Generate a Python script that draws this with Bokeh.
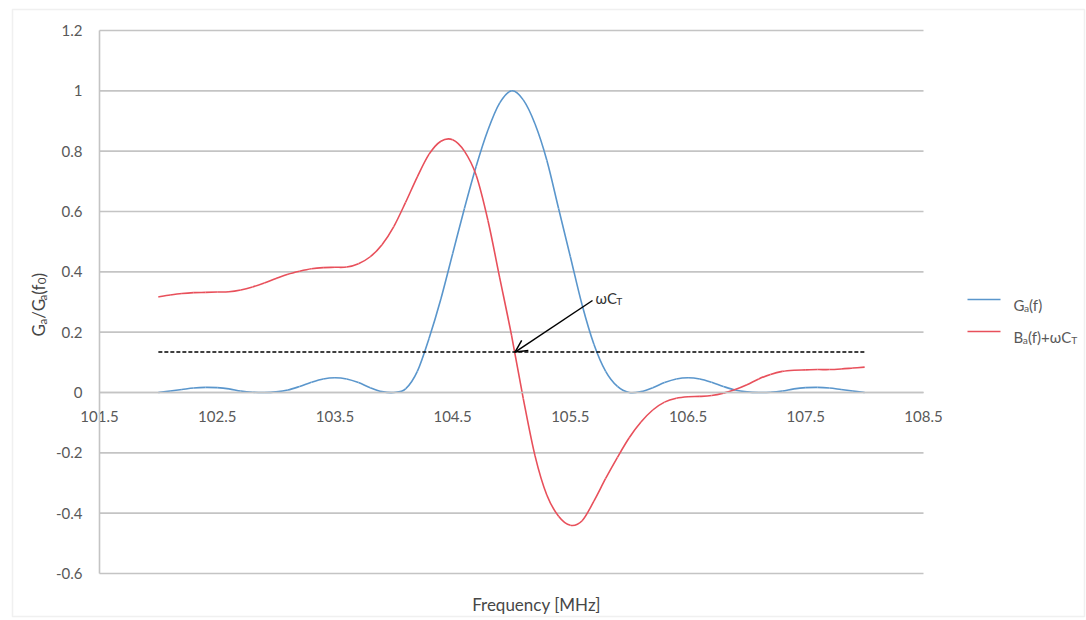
from math import pi

import numpy as np
from bokeh.plotting import figure
from bokeh.models import (Range1d, FixedTicker, CustomJSTickFormatter, Label,
                          Arrow, OpenHead, BoxAnnotation)
from bokeh.embed import file_html
from bokeh.resources import INLINE

# ---- data -------------------------------------------------------------
freq_mhz = [102.0, 102.1, 102.2, 102.3, 102.4, 102.5, 102.6, 102.7, 102.8, 102.9,
            103.0, 103.1, 103.2, 103.3, 103.4, 103.5, 103.6, 103.7, 103.8, 103.9,
            104.0, 104.1, 104.2, 104.3, 104.4, 104.5, 104.6, 104.7, 104.8, 104.9,
            105.0, 105.1, 105.2, 105.3, 105.4, 105.5, 105.6, 105.7, 105.8, 105.9,
            106.0, 106.1, 106.2, 106.3, 106.4, 106.5, 106.6, 106.7, 106.8, 106.9,
            107.0, 107.1, 107.2, 107.3, 107.4, 107.5, 107.6, 107.7, 107.8, 107.9,
            108.0]

# normalised radiation conductance Ga(f)/Ga(f0)
g_norm = [0.0, 0.005, 0.01, 0.015, 0.017, 0.016, 0.012, 0.005, 0.001, 0.0,
          0.002, 0.008, 0.02, 0.034, 0.045, 0.049, 0.045, 0.033, 0.016, 0.003,
          0.0, 0.012, 0.07, 0.18, 0.31, 0.46, 0.61, 0.75, 0.87, 0.96,
          1.0, 0.97, 0.89, 0.77, 0.61, 0.45, 0.29, 0.16, 0.07, 0.02,
          0.0, 0.003, 0.016, 0.033, 0.045, 0.049, 0.045, 0.034, 0.02, 0.008,
          0.002, 0.0, 0.001, 0.005, 0.012, 0.016, 0.017, 0.015, 0.01, 0.005,
          0.0]

# susceptance plus static capacitance term Ba(f)+wCT
b_plus_wct = [0.317, 0.323, 0.328, 0.331, 0.332, 0.333, 0.334, 0.34, 0.35, 0.363,
              0.378, 0.392, 0.402, 0.41, 0.414, 0.415, 0.416, 0.427, 0.45, 0.49,
              0.55, 0.63, 0.715, 0.79, 0.833, 0.838, 0.80, 0.72, 0.57, 0.38,
              0.19, -0.02, -0.21, -0.34, -0.41, -0.44, -0.425, -0.36, -0.285, -0.215,
              -0.15, -0.098, -0.058, -0.032, -0.019, -0.014, -0.013, -0.01, -0.002, 0.01,
              0.026, 0.045, 0.06, 0.07, 0.074, 0.075, 0.076, 0.076, 0.078, 0.081,
              0.084]

wct_level = 0.134
wct_span = [102.0, 108.0]
wct_crossing = 105.03

x_ticks = [101.5, 102.5, 103.5, 104.5, 105.5, 106.5, 107.5, 108.5]
y_ticks = [-0.6, -0.4, -0.2, 0.0, 0.2, 0.4, 0.6, 0.8, 1.0, 1.2]

# ---- styling ----------------------------------------------------------
FONT = "Lato"
BLUE = "#5a96cc"
RED = "#e8505b"
GRID = "#c4c4c4"
TICK_TXT = "#595959"
TITLE_TXT = "#474747"

W, H = 1086, 620
# plot-area edges on the canvas, in pixels
PL, PR, PT, PB = 99, 923, 30, 573
X0, X1 = x_ticks[0], x_ticks[-1]
Y0, Y1 = y_ticks[0], y_ticks[-1]
SX = (X1 - X0) / (PR - PL)
SY = (Y1 - Y0) / (PB - PT)


def dx(px):
    """canvas x pixel -> data x"""
    return X0 + (px - PL) * SX


def dy(py):
    """canvas y pixel (from top) -> data y"""
    return Y1 - (py - PT) * SY


# the frame fills the whole canvas so titles, legend and border can be
# drawn as annotations around the plot area
p = figure(width=W, height=H, output_backend="svg", toolbar_location=None,
           title=None,
           x_range=Range1d(dx(0), dx(W)), y_range=Range1d(dy(H), dy(0)),
           min_border=0, min_border_left=0, min_border_right=0,
           min_border_top=0, min_border_bottom=0)
p.background_fill_color = "white"
p.border_fill_color = "white"
p.outline_line_color = None
p.grid.visible = False

# horizontal gridlines across the plot area only
p.segment(x0=X0, x1=X1, y0=y_ticks, y1=y_ticks,
          line_color=GRID, line_width=1.6)

# axes crossing at (101.5, 0)
p.xaxis.fixed_location = 0.0
p.yaxis.fixed_location = X0
p.xaxis.bounds = (X0, X1)
p.yaxis.bounds = (Y0, Y1)
p.xaxis.ticker = FixedTicker(ticks=x_ticks)
p.yaxis.ticker = FixedTicker(ticks=y_ticks)
p.yaxis.formatter = CustomJSTickFormatter(
    code="return tick.toFixed(1).replace(/\\.0$/, '');")
for ax in (p.xaxis, p.yaxis):
    ax.axis_line_color = GRID
    ax.axis_line_width = 1.6
    ax.major_tick_line_color = None
    ax.minor_tick_line_color = None
    ax.major_tick_out = 0
    ax.major_tick_in = 0
    ax.major_label_text_font = FONT
    ax.major_label_text_font_size = "15px"
    ax.major_label_text_color = TICK_TXT
p.xaxis.major_label_standoff = 18
p.yaxis.major_label_standoff = 17


def smooth(x, y, color):
    """smoothed line through the samples (Catmull-Rom as cubic Beziers)"""
    x = np.asarray(x, float)
    y = np.asarray(y, float)
    xp = np.concatenate([[x[0]], x, [x[-1]]])
    yp = np.concatenate([[y[0]], y, [y[-1]]])
    n = len(x) - 1
    i = np.arange(n) + 1
    cx0 = xp[i] + (xp[i + 1] - xp[i - 1]) / 6
    cy0 = yp[i] + (yp[i + 1] - yp[i - 1]) / 6
    cx1 = xp[i + 1] - (xp[i + 2] - xp[i]) / 6
    cy1 = yp[i + 1] - (yp[i + 2] - yp[i]) / 6
    p.bezier(x0=x[:-1], y0=y[:-1], x1=x[1:], y1=y[1:],
             cx0=cx0, cy0=cy0, cx1=cx1, cy1=cy1,
             line_color=color, line_width=1.6)


smooth(freq_mhz, g_norm, BLUE)
smooth(freq_mhz, b_plus_wct, RED)
p.line(wct_span, [wct_level, wct_level], line_color="black",
       line_width=1.5, line_dash="4 2")

# arrow pointing at the wCT crossing
p.add_layout(Arrow(x_start=dx(592), y_start=dy(300),
                   x_end=wct_crossing, y_end=wct_level,
                   line_color="black", line_width=1.5,
                   end=OpenHead(size=12, line_color="black", line_width=1.5)))

# ---- text with subscripts ---------------------------------------------
EM = {"G": 0.70, "B": 0.62, "a": 0.50, "f": 0.32, "(": 0.30, ")": 0.30,
      "/": 0.38, "0": 0.58, "+": 0.58, "C": 0.66, "T": 0.57, "ω": 0.73,
      "c": 0.47}


def rich(parts, px, py, size, color, angle=0.0):
    pos = 0.0
    for txt, sub in parts:
        s = size * 0.68 if sub else size
        shift = size * 0.22 if sub else 0.0
        if angle == 0.0:
            x, y = px + pos, py + shift
        else:
            x, y = px + shift, py - pos
        p.add_layout(Label(x=dx(x), y=dy(y), text=txt, text_font=FONT,
                           text_font_size=f"{s:.1f}px", text_color=color,
                           angle=angle, text_align="left",
                           text_baseline="alphabetic"))
        pos += sum(EM.get(c, 0.55) for c in txt) * s


# annotation next to the arrow
rich([("ωC", False), ("T", True)], 595, 297, 15, "#333333")

# axis titles
p.add_layout(Label(x=dx(536), y=dy(604), text="Frequency [MHz]",
                   text_font=FONT, text_font_size="17px",
                   text_color=TITLE_TXT, text_align="center",
                   text_baseline="alphabetic"))
rich([("G", False), ("a", True), ("/G", False), ("a", True), ("(f", False),
      ("0", True), (")", False)], 38, 336, 17, TITLE_TXT, angle=pi / 2)

# legend
p.add_layout(BoxAnnotation(left=dx(967), right=dx(1000), top=dy(298.2),
                           bottom=dy(299.8), fill_color=BLUE, fill_alpha=1,
                           line_color=None))
p.add_layout(BoxAnnotation(left=dx(967), right=dx(1000), top=dy(330.2),
                           bottom=dy(331.8), fill_color=RED, fill_alpha=1,
                           line_color=None))
rich([("G", False), ("a", True), ("(f)", False)], 1013, 304, 15, TICK_TXT)
rich([("B", False), ("a", True), ("(f)+ωC", False), ("T", True)],
     1013, 336, 15, TICK_TXT)

# chart-area border
p.add_layout(BoxAnnotation(left=dx(12), right=dx(1084), top=dy(9),
                           bottom=dy(616), fill_alpha=0,
                           line_color="#cccccc", line_width=1.5))

open("out.html", "w").write(file_html(p, INLINE))
